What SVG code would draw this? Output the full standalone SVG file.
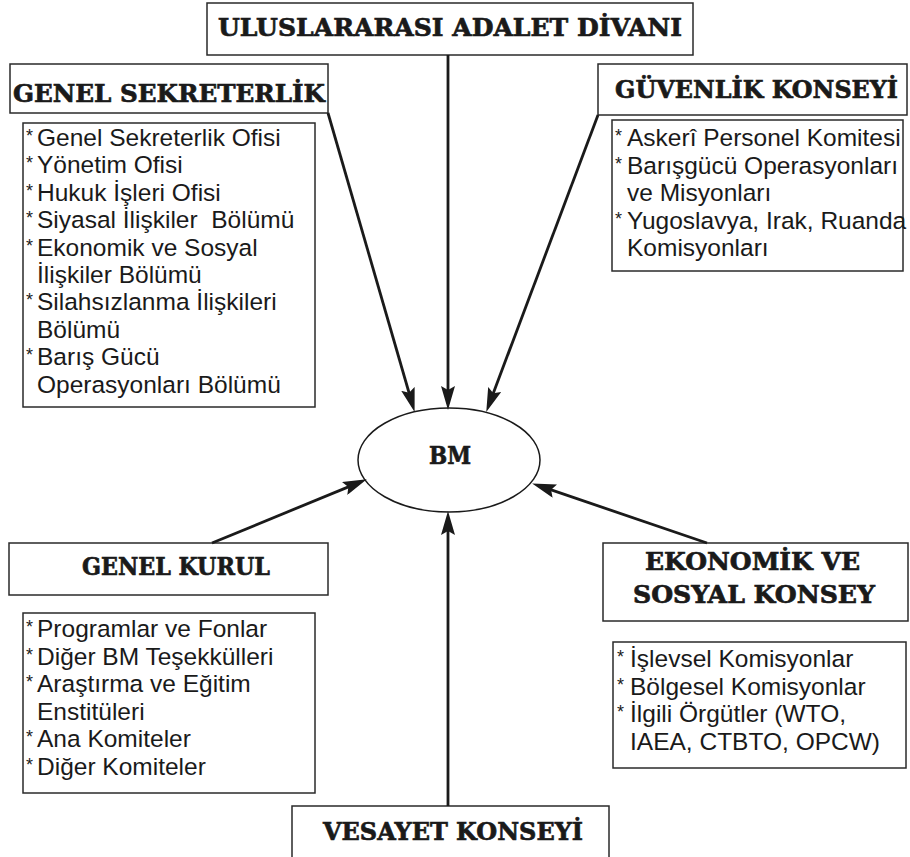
<svg xmlns="http://www.w3.org/2000/svg" width="910" height="857" viewBox="0 0 910 857">
<style>
.box{fill:#fff;stroke:#2a2a2a;stroke-width:1.5}
.head{font-family:"DejaVu Serif","Liberation Serif",serif;font-weight:bold;font-size:25px;fill:#1a1a1a;stroke:#1a1a1a;stroke-width:0.7;text-anchor:middle}
.item{font-family:"Liberation Sans",Arial,sans-serif;font-size:24.5px;fill:#1a1a1a}
.ast{font-family:"Liberation Sans",Arial,sans-serif;font-size:18px;fill:#1a1a1a}
.conn line{stroke:#1a1a1a;stroke-width:2.8;marker-end:url(#arr)}
.ell{fill:#fff;stroke:#1a1a1a;stroke-width:1.5}
</style>
<defs>
<marker id="arr" markerUnits="userSpaceOnUse" markerWidth="24" markerHeight="14" refX="10" refY="7" orient="auto" viewBox="0 0 24 14">
<path d="M0,0 L24,7 L0,14 L4,7 Z" fill="#1a1a1a"/>
</marker>
</defs>
<rect width="910" height="857" fill="#fff"/>

<g id="bm">
<ellipse class="ell" cx="449" cy="460" rx="91" ry="52"/>
<text class="head" x="450" y="464" font-size="26" textLength="42" lengthAdjust="spacingAndGlyphs">BM</text>
</g>

<g id="adalet-divani">
<rect class="box" x="207" y="3" width="486" height="52"/>
<text class="head" x="450" y="36" font-size="23" textLength="464" lengthAdjust="spacingAndGlyphs">ULUSLARARASI ADALET DİVANI</text>
</g>

<g id="genel-sekreterlik">
<rect class="box" x="10" y="64" width="318" height="49"/>
<text class="head" x="169" y="102" textLength="312" lengthAdjust="spacingAndGlyphs">GENEL SEKRETERLİK</text>
</g>

<g id="genel-sekreterlik-items">
<rect class="box" x="23" y="123" width="292" height="284"/>
<text class="ast" x="26" y="142">*</text><text class="item" x="37" y="146">Genel Sekreterlik Ofisi</text>
<text class="ast" x="26" y="169.4">*</text><text class="item" x="37" y="173.4">Yönetim Ofisi</text>
<text class="ast" x="26" y="196.8">*</text><text class="item" x="37" y="200.8">Hukuk İşleri Ofisi</text>
<text class="ast" x="26" y="224.2">*</text><text class="item" x="37" y="228.2">Siyasal İlişkiler&#160; Bölümü</text>
<text class="ast" x="26" y="251.6">*</text><text class="item" x="37" y="255.6">Ekonomik ve Sosyal</text>
<text class="item" x="37" y="283">İlişkiler Bölümü</text>
<text class="ast" x="26" y="306.4">*</text><text class="item" x="37" y="310.4">Silahsızlanma İlişkileri</text>
<text class="item" x="37" y="337.8">Bölümü</text>
<text class="ast" x="26" y="361.2">*</text><text class="item" x="37" y="365.2">Barış Gücü</text>
<text class="item" x="37" y="392.6">Operasyonları Bölümü</text>
</g>

<g id="guvenlik-konseyi">
<rect class="box" x="598" y="64" width="309" height="51"/>
<text class="head" x="756.5" y="98" textLength="283" lengthAdjust="spacingAndGlyphs">GÜVENLİK KONSEYİ</text>
</g>

<g id="guvenlik-konseyi-items">
<rect class="box" x="612" y="120" width="291" height="151"/>
<text class="ast" x="615" y="142">*</text><text class="item" x="627" y="146">Askerî Personel Komitesi</text>
<text class="ast" x="615" y="169.5">*</text><text class="item" x="627" y="173.5">Barışgücü Operasyonları</text>
<text class="item" x="627" y="201">ve Misyonları</text>
<text class="ast" x="615" y="224.5">*</text><text class="item" x="627" y="228.5">Yugoslavya, Irak, Ruanda</text>
<text class="item" x="627" y="256">Komisyonları</text>
</g>

<g id="genel-kurul">
<rect class="box" x="9" y="543" width="319" height="52"/>
<text class="head" x="176" y="575" textLength="188" lengthAdjust="spacingAndGlyphs">GENEL KURUL</text>
</g>

<g id="genel-kurul-items">
<rect class="box" x="23" y="613" width="292" height="180"/>
<text class="ast" x="26" y="633">*</text><text class="item" x="37" y="637">Programlar ve Fonlar</text>
<text class="ast" x="26" y="660.5">*</text><text class="item" x="37" y="664.5">Diğer BM Teşekkülleri</text>
<text class="ast" x="26" y="688">*</text><text class="item" x="37" y="692">Araştırma ve Eğitim</text>
<text class="item" x="37" y="719.5">Enstitüleri</text>
<text class="ast" x="26" y="743">*</text><text class="item" x="37" y="747">Ana Komiteler</text>
<text class="ast" x="26" y="770.5">*</text><text class="item" x="37" y="774.5">Diğer Komiteler</text>
</g>

<g id="ekonomik-sosyal-konsey">
<rect class="box" x="603" y="543" width="305" height="78"/>
<text class="head" x="752.5" y="570" textLength="215" lengthAdjust="spacingAndGlyphs">EKONOMİK VE</text>
<text class="head" x="754" y="603" textLength="242" lengthAdjust="spacingAndGlyphs">SOSYAL KONSEY</text>
</g>

<g id="ekonomik-sosyal-konsey-items">
<rect class="box" x="613" y="642" width="293" height="126"/>
<text class="ast" x="617" y="663">*</text><text class="item" x="630" y="667">İşlevsel Komisyonlar</text>
<text class="ast" x="617" y="691">*</text><text class="item" x="630" y="695">Bölgesel Komisyonlar</text>
<text class="ast" x="617" y="718">*</text><text class="item" x="630" y="722">İlgili Örgütler (WTO,</text>
<text class="item" x="630" y="750">IAEA, CTBTO, OPCW)</text>
</g>

<g id="vesayet-konseyi">
<rect class="box" x="292" y="806" width="317" height="70"/>
<text class="head" x="453" y="840" textLength="260" lengthAdjust="spacingAndGlyphs">VESAYET KONSEYİ</text>
</g>

<g id="connectors" class="conn">
<line x1="448" y1="55" x2="448" y2="396"/>
<line x1="328" y1="113" x2="410.7" y2="398.5"/>
<line x1="598" y1="115" x2="491.2" y2="398.8"/>
<line x1="212" y1="543" x2="353.9" y2="484.6"/>
<line x1="707" y1="543" x2="545.4" y2="487.9"/>
<line x1="448" y1="806" x2="448" y2="525"/>
</g>
</svg>
